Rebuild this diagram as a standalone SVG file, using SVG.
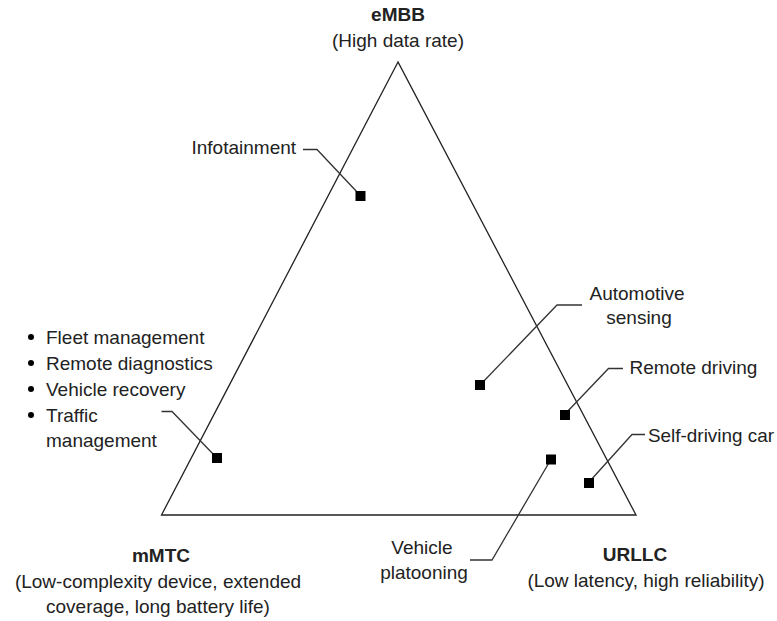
<svg xmlns="http://www.w3.org/2000/svg" width="777" height="621" viewBox="0 0 777 621">
  <style>
    text { font-family: "Liberation Sans", Arial, sans-serif; font-size: 19px; fill: #222; }
    .b { font-weight: bold; }
    .c { text-anchor: middle; }
    .leader { fill: none; stroke: #333; stroke-width: 1.3; }
    .tri { fill: none; stroke: #222; stroke-width: 1.3; stroke-linejoin: miter; }
    .pt { fill: #000; }
  </style>

  <!-- service triangle -->
  <g id="triangle">
    <polygon class="tri" points="398,62 161.5,515 636,515"/>
  </g>

  <!-- corner labels -->
  <g id="embb">
    <text class="b c" x="398" y="21">eMBB</text>
    <text class="c" x="398" y="47">(High data rate)</text>
  </g>
  <g id="mmtc">
    <text class="b c" x="161" y="562">mMTC</text>
    <text class="c" x="158" y="588">(Low-complexity device, extended</text>
    <text class="c" x="158" y="613">coverage, long battery life)</text>
  </g>
  <g id="urllc">
    <text class="b c" x="635" y="561">URLLC</text>
    <text class="c" x="646" y="587">(Low latency, high reliability)</text>
  </g>

  <!-- leader lines -->
  <g id="connectors">
    <polyline class="leader" points="303,149.5 317,149.5 358,193"/>
    <polyline class="leader" points="161.5,411.5 172,411.5 215,456"/>
    <polyline class="leader" points="582,305 557,305 482,383"/>
    <polyline class="leader" points="623,368.5 608.5,368.5 566,413"/>
    <polyline class="leader" points="645,434.5 632,434.5 590,481"/>
    <polyline class="leader" points="470,560 492,560 550,461"/>
  </g>

  <!-- use-case nodes -->
  <g id="infotainment">
    <rect class="pt" x="355.5" y="191" width="10" height="10"/>
    <text x="191.5" y="154">Infotainment</text>
  </g>
  <g id="mmtc-cases">
    <rect class="pt" x="212" y="453" width="10" height="10"/>
    <circle class="pt" cx="31" cy="337" r="3"/>
    <circle class="pt" cx="31" cy="363" r="3"/>
    <circle class="pt" cx="31" cy="389" r="3"/>
    <circle class="pt" cx="31" cy="415" r="3"/>
    <text x="46" y="343.5">Fleet management</text>
    <text x="46" y="369.5">Remote diagnostics</text>
    <text x="46" y="395.5">Vehicle recovery</text>
    <text x="46" y="421.5">Traffic</text>
    <text x="46" y="447">management</text>
  </g>
  <g id="automotive-sensing">
    <rect class="pt" x="475" y="380" width="10" height="10"/>
    <text class="c" x="637" y="299.5">Automotive</text>
    <text class="c" x="639" y="323.5">sensing</text>
  </g>
  <g id="remote-driving">
    <rect class="pt" x="560" y="410" width="10" height="10"/>
    <text x="629.5" y="374">Remote driving</text>
  </g>
  <g id="self-driving-car">
    <rect class="pt" x="584" y="478" width="10" height="10"/>
    <text x="648" y="442" textLength="126" lengthAdjust="spacingAndGlyphs">Self-driving car</text>
  </g>
  <g id="vehicle-platooning">
    <rect class="pt" x="546" y="454.5" width="10" height="10"/>
    <text class="c" x="422" y="553.5">Vehicle</text>
    <text class="c" x="424" y="578.5">platooning</text>
  </g>
</svg>
